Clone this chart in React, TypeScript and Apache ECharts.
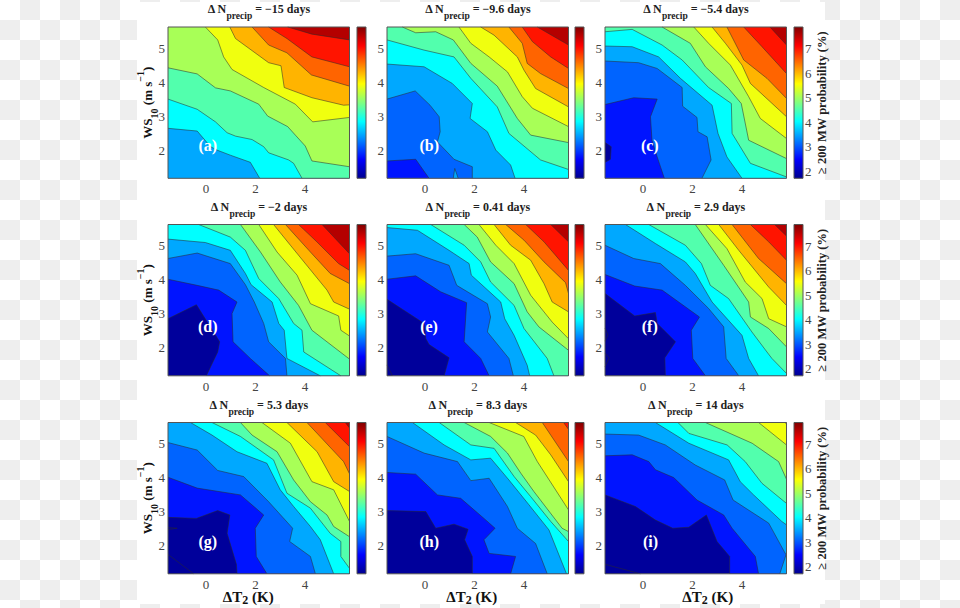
import React, { useEffect, useRef } from "react";
import * as echarts from "echarts";

// Axis extents of every panel (K, m/s) and of the colour bars (%)
const X_MIN = -1.54, X_MAX = 5.8, Y_MIN = 1.18, Y_MAX = 5.63;
const BAR_MIN = 1.71, BAR_MAX = 7.9;
const xTicks = [0, 2, 4];
const yTicks = [2, 3, 4, 5];
const barTicks = [2, 3, 4, 5, 6, 7];

const bandColors = ["#00009b", "#0014ff", "#0064ff", "#00a8ff", "#00ffff", "#52ffad", "#a8ff57", "#f0ff0f", "#ffb400", "#ff6400", "#ff1400", "#b40000"];
const jetStops = [[0, "#00008f"], [0.125, "#0000ff"], [0.375, "#00ffff"], [0.625, "#ffff00"], [0.875, "#ff0000"], [1, "#800000"]];

const titles = ["−15", "−9.6", "−5.4", "−2", "0.41", "2.9", "5.3", "8.3", "14"];
const letters = ["(a)", "(b)", "(c)", "(d)", "(e)", "(f)", "(g)", "(h)", "(i)"];
const letterX = [0.07, 0.17, 0.27, 0.07, 0.16, 0.27, 0.07, 0.17, 0.3];
const letterY = [2.14, 2.14, 2.14, 2.64, 2.64, 2.64, 2.13, 2.13, 2.13];
const baseBands = [3, 1, 1, 0, 0, 0, 0, 0, 0];

// Each contour: band painted on its high side, then x,y pairs.
const contoursA = [
  [4, -1.54, 2.65, -0.36, 2.57, 0.18, 2.11, 0.44, 2.01, 0.98, 1.86, 1.79, 1.65, 2.17, 1.18],
  [5, -1.54, 3.51, -0.36, 3.21, 0.38, 2.84, 0.85, 2.52, 1.19, 2.42, 1.86, 2.32, 2.33, 2.11, 2.53, 1.93, 3.34, 1.72, 3.54, 1.62, 3.88, 1.18],
  [6, -1.54, 4.43, -0.36, 4.25, 0.38, 3.84, 0.98, 3.75, 2.13, 3.36, 2.49, 3.01, 3.3, 2.7, 3.61, 2.45, 4.01, 2.13, 4.28, 1.69, 5.8, 1.52],
  [7, -0.03, 5.63, 0.47, 5.25, 0.71, 4.75, 1.05, 4.38, 2.33, 3.85, 3.61, 3.36, 4.31, 2.84, 5.8, 2.97],
  [8, 0.96, 5.63, 1.19, 5.29, 2.53, 4.58, 3.03, 4.49, 3.16, 3.85, 4.28, 3.55, 5.56, 3.33, 5.8, 3.34],
  [9, 1.86, 5.63, 2.53, 5.1, 3.27, 4.87, 4.26, 4.22, 5.8, 3.89],
  [10, 2.53, 5.63, 3.27, 5.29, 4.28, 4.75, 5.8, 4.46],
  [11, 3.3, 5.63, 4.28, 5.42, 5.8, 5.25],
];
const contoursB = [
  [2, -1.54, 1.69, -0.38, 1.74, 0.16, 1.18],
  [3, -1.54, 3.51, -0.4, 3.75, 0.2, 3.33, 0.57, 2.99, 0.61, 2.55, 0.5, 2.25, 1.17, 1.74, 1.91, 1.52, 1.91, 1.18],
  [4, -1.54, 4.54, -0.04, 4.46, 1.1, 3.97, 1.91, 3.38, 1.82, 2.94, 2.52, 2.55, 2.86, 2.01, 3.46, 1.57, 3.64, 1.18],
  [5, -1.54, 5.25, -0.04, 4.95, 1.17, 4.75, 1.85, 4.12, 2.92, 3.28, 3.39, 2.5, 4.67, 1.72, 5.8, 1.44],
  [6, -0.92, 5.63, -0.38, 5.46, 0.43, 5.49, 1.14, 5.25, 1.85, 4.56, 2.92, 3.89, 3.73, 2.94, 4.27, 2.45, 5.8, 2.23],
  [7, 1.37, 5.63, 1.85, 5.15, 2.59, 4.75, 3.33, 4.31, 3.93, 3.58, 4.34, 3.24, 5.8, 2.7],
  [8, 2.25, 5.63, 2.79, 5.39, 3.73, 4.75, 4.0, 4.36, 4.47, 3.82, 5.8, 3.28],
  [9, 3.39, 5.63, 3.93, 5.15, 4.13, 4.56, 4.67, 4.26, 5.8, 3.82],
  [10, 3.93, 5.63, 4.34, 5.2, 5.08, 4.75, 5.8, 4.41],
  [11, 4.54, 5.63, 5.8, 5.1],
  [3, 1.34, 1.18, 1.2, 1.47, 1.14, 1.18],
];
const contoursC = [
  [2, -1.54, 3.35, -0.38, 3.55, 0.57, 3.51, 0.3, 2.99, 0.36, 2.3, 0.57, 1.81, 0.86, 1.18],
  [3, -1.54, 4.63, -0.18, 4.58, 0.57, 4.41, 1.58, 3.85, 1.6, 3.3, 2.18, 2.97, 2.22, 2.55, 2.59, 2.4, 2.75, 1.72, 2.38, 1.18],
  [4, -1.54, 5.07, -0.44, 5.05, 0.63, 4.75, 1.51, 4.12, 2.79, 3.33, 3.03, 2.5, 3.39, 1.81, 4.0, 1.18],
  [5, -1.54, 5.49, -0.44, 5.56, 0.77, 5.1, 1.58, 4.66, 2.65, 3.85, 3.57, 3.38, 3.6, 2.5, 4.34, 1.62, 5.8, 1.22],
  [6, 0.77, 5.63, 1.91, 5.15, 2.52, 4.46, 3.46, 3.82, 3.97, 3.38, 4.27, 2.3, 5.8, 1.76],
  [7, 2.05, 5.63, 2.65, 5.15, 3.53, 4.51, 4.27, 3.58, 4.74, 2.94, 5.8, 2.35],
  [8, 2.79, 5.63, 3.33, 5.15, 4.0, 4.51, 4.34, 3.97, 5.8, 2.99],
  [9, 3.39, 5.63, 4.07, 4.66, 5.01, 4.12, 5.8, 3.53],
  [10, 4.07, 5.63, 4.81, 5.05, 5.8, 4.26],
  [11, 5.13, 5.63, 5.8, 5.1],
  [0, -1.54, 1.65, -1.32, 1.74, -1.29, 2.11, -1.54, 2.23],
];
const contoursD = [
  [1, -1.54, 2.86, -0.39, 3.27, 0.55, 2.18, 0.47, 1.88, 0.01, 1.18],
  [2, -1.54, 4.02, -0.36, 3.84, 0.51, 3.7, 1.25, 3.35, 1.05, 3.01, 1.09, 2.18, 1.79, 1.69, 2.57, 1.18],
  [3, -1.54, 4.63, -0.36, 4.79, 0.98, 4.48, 1.59, 3.86, 1.95, 3.35, 2.33, 2.72, 2.53, 2.18, 3.21, 1.69, 3.27, 1.18],
  [4, -1.54, 5.2, -0.03, 5.1, 0.98, 4.87, 1.59, 4.19, 1.82, 3.86, 2.67, 3.35, 2.94, 2.72, 3.16, 2.52, 3.27, 1.69, 4.62, 1.18],
  [5, -0.3, 5.63, 0.98, 5.26, 1.59, 4.87, 2.13, 4.04, 2.94, 3.45, 3.54, 2.72, 3.88, 2.52, 3.95, 1.88, 5.45, 1.18],
  [6, 1.39, 5.63, 2.2, 4.82, 3.0, 3.94, 3.74, 3.25, 4.28, 2.52, 5.8, 1.67],
  [7, 2.13, 5.63, 2.87, 4.82, 3.68, 4.14, 4.22, 3.3, 5.36, 2.94, 5.45, 2.52, 5.8, 2.35],
  [8, 2.73, 5.63, 3.41, 5.02, 4.89, 3.7, 5.16, 3.35, 5.8, 3.14],
  [9, 3.21, 5.63, 4.22, 4.82, 5.02, 4.19, 5.8, 3.89],
  [10, 3.74, 5.63, 4.48, 5.12, 5.36, 4.48, 5.8, 4.28],
  [11, 4.69, 5.63, 5.8, 4.77],
];
const contoursE = [
  [1, -1.54, 3.43, -0.04, 2.72, 0.03, 2.27, 0.16, 2.1, 0.97, 1.71, 0.77, 1.18],
  [2, -1.54, 4.02, -0.38, 4.12, 0.63, 3.65, 1.68, 3.33, 1.58, 2.18, 2.25, 1.69, 2.59, 1.18],
  [3, -1.54, 4.7, -0.38, 4.77, 0.97, 4.43, 1.28, 3.84, 2.52, 3.3, 2.65, 2.91, 2.52, 2.47, 3.39, 1.69, 3.57, 1.18],
  [4, -1.54, 5.54, -0.31, 5.46, 0.97, 4.87, 1.78, 4.48, 1.87, 4.14, 3.06, 3.35, 3.22, 2.86, 3.6, 2.37, 4.13, 1.49, 4.23, 1.18],
  [5, 0.23, 5.63, 1.58, 5.02, 2.25, 4.53, 2.65, 3.94, 3.6, 3.25, 4.0, 2.57, 4.94, 1.69, 5.21, 1.18],
  [6, 1.58, 5.63, 2.11, 5.26, 2.65, 4.53, 3.6, 3.89, 4.13, 3.06, 4.6, 2.62, 5.8, 1.93],
  [7, 2.18, 5.63, 2.86, 5.02, 3.6, 4.48, 4.27, 3.55, 5.14, 2.76, 5.8, 2.27],
  [8, 2.79, 5.63, 3.46, 5.02, 4.27, 4.58, 4.81, 3.89, 5.14, 3.35, 5.8, 3.06],
  [9, 3.26, 5.63, 4.0, 5.17, 4.81, 4.53, 5.68, 3.92, 5.8, 3.6],
  [10, 4.07, 5.63, 4.81, 5.12, 5.8, 4.28],
  [11, 5.08, 5.63, 5.8, 5.12],
  [0, -1.32, 1.18, -1.54, 1.5],
];
const contoursF = [
  [1, -1.54, 3.6, -0.34, 2.94, 0.5, 3.04, 0.57, 2.72, 1.31, 2.18, 0.88, 1.71, 0.9, 1.18],
  [2, -1.54, 4.16, -0.34, 3.82, 0.77, 3.7, 2.28, 2.91, 1.95, 2.52, 2.01, 1.69, 2.52, 1.18],
  [3, -1.54, 5.02, -0.38, 4.63, 0.7, 4.48, 1.71, 3.84, 2.65, 3.16, 3.26, 2.62, 3.36, 1.69, 3.87, 1.18],
  [4, -0.71, 5.63, 0.5, 5.07, 1.71, 4.53, 2.11, 4.19, 2.79, 3.35, 4.0, 2.37, 4.27, 1.69, 4.67, 1.18],
  [5, 0.23, 5.63, 1.71, 5.02, 2.36, 4.48, 2.72, 3.84, 3.46, 3.45, 4.4, 2.47, 5.01, 1.88, 5.21, 1.69, 5.8, 1.25],
  [6, 2.11, 5.63, 3.26, 4.43, 4.27, 3.35, 4.34, 2.91, 5.08, 2.57, 5.8, 2.03],
  [7, 2.52, 5.63, 3.39, 4.92, 4.13, 3.94, 4.81, 3.45, 5.08, 2.86, 5.8, 2.62],
  [8, 3.06, 5.63, 3.87, 4.87, 5.08, 3.79, 5.8, 3.25],
  [9, 3.6, 5.63, 4.67, 4.63, 5.8, 3.89],
  [10, 4.34, 5.63, 5.08, 5.12, 5.8, 4.58],
  [11, 5.32, 5.63, 5.8, 5.29],
  [0, -1.54, 2.2, -1.42, 2.38, -1.54, 2.58],
  [0, -1.54, 1.45, -1.37, 1.7, -1.54, 1.85],
];
const contoursG = [
  [1, -1.54, 2.84, -0.39, 2.81, 0.47, 3.04, 0.96, 2.91, 0.85, 2.37, 1.23, 1.45, 1.25, 1.18],
  [2, -1.54, 4.02, -0.36, 3.7, 1.39, 3.5, 2.33, 2.91, 1.99, 2.52, 2.03, 1.69, 2.46, 1.18],
  [3, -1.54, 5.04, -0.36, 4.82, 0.47, 4.22, 1.52, 4.04, 2.53, 3.3, 3.5, 2.52, 3.38, 2.13, 4.22, 1.69, 4.42, 1.18],
  [4, -0.63, 5.63, 0.24, 5.26, 1.25, 4.77, 2.46, 4.43, 3.0, 3.65, 3.54, 3.16, 4.22, 2.57, 4.62, 2.18, 5.16, 1.18],
  [5, 0.24, 5.63, 1.39, 5.22, 2.73, 4.53, 3.27, 3.55, 4.22, 3.11, 5.02, 2.37, 5.45, 2.13, 5.45, 1.69, 5.8, 1.34],
  [6, 1.39, 5.63, 1.86, 5.26, 2.87, 4.77, 3.54, 3.94, 4.22, 3.3, 4.89, 2.91, 5.16, 2.57, 5.8, 2.27],
  [7, 2.26, 5.63, 3.41, 5.02, 4.28, 3.89, 5.16, 3.65, 5.8, 2.72],
  [8, 3.27, 5.63, 4.49, 4.77, 5.16, 3.89, 5.8, 3.6],
  [9, 4.08, 5.63, 5.56, 4.48, 5.8, 4.12],
  [10, 4.82, 5.63, 5.8, 4.92],
  [11, 5.63, 5.63, 5.8, 5.47],
  [0, -0.5, 1.18, -1.54, 1.75],
  [0, -1.54, 2.48, -1.17, 2.52, -1.54, 2.54],
];
const contoursH = [
  [1, -1.54, 3.04, 0.03, 3.01, 0.43, 2.52, 1.17, 2.64, 1.74, 2.49, 1.6, 2.18, 1.91, 1.69, 1.91, 1.18],
  [2, -1.54, 4.16, -0.38, 4.11, 0.5, 3.5, 1.44, 3.4, 2.38, 2.81, 2.83, 2.52, 2.38, 2.18, 2.59, 1.78, 3.66, 1.69, 3.46, 1.18],
  [3, -1.54, 5.22, -0.04, 4.73, 1.31, 4.48, 1.85, 3.92, 2.59, 3.99, 3.33, 3.16, 3.73, 2.52, 4.47, 2.07, 4.94, 1.18],
  [4, -0.51, 5.63, 0.77, 4.97, 1.85, 4.53, 2.65, 4.58, 3.39, 3.94, 4.2, 3.21, 5.01, 2.47, 5.72, 1.18],
  [5, 0.57, 5.63, 1.85, 4.97, 2.79, 4.87, 3.6, 4.04, 4.27, 3.45, 5.08, 2.72, 5.8, 2.13],
  [6, 1.58, 5.63, 2.65, 5.22, 3.33, 4.73, 3.87, 4.14, 4.4, 3.6, 5.54, 2.52, 5.8, 2.42],
  [7, 2.59, 5.63, 3.99, 5.22, 4.54, 4.48, 5.8, 3.06],
  [8, 3.66, 5.63, 4.47, 5.26, 5.08, 4.68, 5.8, 3.89],
  [9, 4.74, 5.63, 5.8, 4.48],
  [10, 5.6, 5.63, 5.8, 5.43],
];
const contoursI = [
  [1, -1.54, 3.5, -0.31, 3.16, 0.5, 2.76, 1.2, 2.52, 1.85, 2.55, 2.56, 2.91, 2.99, 2.13, 3.5, 1.69, 3.5, 1.18],
  [2, -1.54, 4.65, -0.44, 4.68, 0.23, 4.48, 0.5, 4.24, 1.24, 4.01, 2.18, 3.35, 3.26, 2.91, 3.6, 2.52, 4.54, 1.69, 4.67, 1.18],
  [3, -1.54, 5.29, -0.18, 5.26, 0.9, 4.97, 2.11, 4.38, 3.3, 3.94, 3.64, 3.35, 5.08, 2.67, 5.78, 1.74, 5.53, 1.18],
  [4, 0.5, 5.63, 1.85, 5.02, 3.46, 4.53, 3.93, 3.89, 4.47, 3.5, 5.61, 2.72, 5.8, 2.62],
  [5, 1.41, 5.63, 1.85, 5.31, 3.4, 4.97, 4.13, 4.48, 4.81, 3.84, 5.8, 3.25],
  [6, 2.52, 5.63, 4.41, 5.02, 5.48, 4.48, 5.8, 3.96],
  [7, 4.67, 5.63, 5.8, 4.97],
  [8, 5.75, 5.63, 5.8, 5.58],
  [0, -0.11, 1.18, -1.54, 1.46],
];
const panels = [contoursA, contoursB, contoursC, contoursD, contoursE, contoursF, contoursG, contoursH, contoursI];

// Layout (pixels)
const colLeft = [168, 387, 605];
const rowTop = [27, 224.5, 422.5];
const plotW = 181.5, plotH = 151.3;
const barLeft = [357, 575, 794];
const barW = 9;
const xNamePad = [[0, 21, 0, 0], [0, 12, 0, 0], [0, 0, 0, 24]];

const SERIF = "Liberation Serif";
const corners = [[X_MIN, Y_MIN], [X_MAX, Y_MIN], [X_MAX, Y_MAX], [X_MIN, Y_MAX]];
const W = X_MAX - X_MIN, H = Y_MAX - Y_MIN;

function edgeParam(x: number, y: number) {
  const e = 0.001;
  if (Math.abs(y - Y_MIN) < e) return (x - X_MIN) / W;
  if (Math.abs(x - X_MAX) < e) return 1 + (y - Y_MIN) / H;
  if (Math.abs(y - Y_MAX) < e) return 2 + (X_MAX - x) / W;
  return 3 + (Y_MAX - y) / H;
}

function contourRenderer(base: number, list: number[][]) {
  return (params: any, api: any) => {
    const idx = params.dataIndex;
    if (idx === 0) {
      return {
        type: "polygon",
        shape: { points: corners.map((c) => api.coord(c)) },
        style: { fill: bandColors[base] },
      };
    }
    const c = list[idx - 1];
    const pts: number[][] = [];
    for (let i = 1; i + 1 < c.length; i += 2) pts.push([c[i], c[i + 1]]);
    const first = pts[0], last = pts[pts.length - 1];
    const te = edgeParam(last[0], last[1]);
    let ts = edgeParam(first[0], first[1]);
    if (ts <= te) ts += 4;
    const closing: number[][] = [];
    for (let n = Math.floor(te) + 1; n < ts; n++) closing.push(corners[n % 4]);
    const line = pts.map((p) => api.coord(p));
    return {
      type: "group",
      children: [
        { type: "polygon", shape: { points: line.concat(closing.map((p) => api.coord(p))) }, style: { fill: bandColors[c[0]] } },
        { type: "polyline", shape: { points: line }, style: { stroke: "#2a2a2a", lineWidth: 0.7, opacity: 0.75, fill: "none" } },
      ],
    };
  };
}

function overlayRenderer(i: number) {
  return (_p: any, api: any) => {
    const a = api.coord([X_MIN, Y_MAX]);
    const b = api.coord([X_MAX, Y_MIN]);
    const t = api.coord([letterX[i], letterY[i]]);
    return {
      type: "group",
      children: [
        { type: "rect", shape: { x: a[0], y: a[1], width: b[0] - a[0], height: b[1] - a[1] }, style: { fill: "none", stroke: "#555", lineWidth: 1 } },
        { type: "text", x: t[0], y: t[1], style: { text: letters[i], fill: "#fff", font: `bold 16px "${SERIF}"`, align: "center", verticalAlign: "middle" } },
      ],
    };
  };
}

function barRenderer(_p: any, api: any) {
  const a = api.coord([0, BAR_MAX]);
  const b = api.coord([1, BAR_MIN]);
  return {
    type: "rect",
    shape: { x: a[0], y: a[1], width: b[0] - a[0], height: b[1] - a[1] },
    style: {
      fill: new echarts.graphic.LinearGradient(0, 1, 0, 0, jetStops.map(([offset, color]) => ({ offset, color }))),
      stroke: "#555",
      lineWidth: 1,
    },
  };
}

function buildOption() {
  const grid: any[] = [], xAxis: any[] = [], yAxis: any[] = [], series: any[] = [], title: any[] = [];
  const tickLabel = { color: "#444", fontFamily: SERIF, fontSize: 13 };
  panels.forEach((list, i) => {
    const col = i % 3, row = Math.floor(i / 3);
    const left = colLeft[col], top = rowTop[row];
    const g = grid.length;
    grid.push({ left, top, width: plotW, height: plotH });
    xAxis.push({
      gridIndex: g, type: "value", min: X_MIN, max: X_MAX,
      axisLine: { show: false }, axisTick: { show: false }, splitLine: { show: false },
      axisLabel: { ...tickLabel, margin: 4, customValues: xTicks },
      ...(row === 2
        ? {
            name: "{m|ΔT}{s|2}{m| (K)}", nameLocation: "middle", nameGap: 14, nameMoveOverlap: false,
            nameTextStyle: {
              padding: xNamePad[col],
              rich: {
                m: { fontFamily: SERIF, fontSize: 15, fontWeight: "bold", color: "#111", lineHeight: 18 },
                s: { fontFamily: SERIF, fontSize: 12, fontWeight: "bold", color: "#111", verticalAlign: "bottom" },
              },
            },
          }
        : {}),
    });
    yAxis.push({
      gridIndex: g, type: "value", min: Y_MIN, max: Y_MAX,
      axisLine: { show: false }, axisTick: { show: false }, splitLine: { show: false },
      axisLabel: { ...tickLabel, margin: 3, customValues: yTicks },
      ...(col === 0
        ? {
            name: "{m|WS}{s|10}{m| (m s}{u|−1}{m|)}", nameLocation: "middle", nameGap: 9, nameRotate: 90, nameMoveOverlap: false,
            nameTextStyle: {
              rich: {
                m: { fontFamily: SERIF, fontSize: 13, fontWeight: "bold", color: "#111", lineHeight: 24 },
                s: { fontFamily: SERIF, fontSize: 10, fontWeight: "bold", color: "#111", verticalAlign: "bottom" },
                u: { fontFamily: SERIF, fontSize: 10, fontWeight: "bold", color: "#111", verticalAlign: "top" },
              },
            },
          }
        : {}),
    });
    series.push({
      type: "custom", coordinateSystem: "cartesian2d", xAxisIndex: g, yAxisIndex: g, silent: true,
      renderItem: contourRenderer(baseBands[i], list),
      data: [[X_MIN, Y_MIN]].concat(list.map((c) => [c[1], c[2]])),
      clip: false,
    });
    series.push({
      type: "custom", coordinateSystem: "cartesian2d", xAxisIndex: g, yAxisIndex: g, silent: true,
      renderItem: overlayRenderer(i), data: [[letterX[i], letterY[i]]], clip: false, z: 5,
    });
    title.push({
      text: `{m|Δ N}{s|precip}{m| = ${titles[i]} days}`,
      left: left + plotW / 2, top: top - 30, textAlign: "center", padding: 0,
      textStyle: {
        rich: {
          m: { fontFamily: SERIF, fontSize: 12, fontWeight: "bold", color: "#222", lineHeight: 24 },
          s: { fontFamily: SERIF, fontSize: 9.5, fontWeight: "bold", color: "#222", verticalAlign: "bottom" },
        },
      },
    });
    // colour bar
    const b = grid.length;
    grid.push({ left: barLeft[col], top, width: barW, height: plotH });
    xAxis.push({ gridIndex: b, type: "value", min: 0, max: 1, show: false });
    yAxis.push({
      gridIndex: b, type: "value", min: BAR_MIN, max: BAR_MAX, position: "right",
      axisLine: { show: false }, axisTick: { show: false }, splitLine: { show: false },
      axisLabel: col === 2 ? { ...tickLabel, margin: 2, customValues: barTicks } : { show: false },
      ...(col === 2
        ? {
            name: "≥ 200 MW probability (%)", nameLocation: "middle", nameGap: 12, nameRotate: 90, nameMoveOverlap: false,
            nameTextStyle: { fontFamily: SERIF, fontSize: 12.5, fontWeight: "bold", color: "#222" },
          }
        : {}),
    });
    series.push({
      type: "custom", coordinateSystem: "cartesian2d", xAxisIndex: b, yAxisIndex: b, silent: true,
      renderItem: barRenderer, data: [[0, BAR_MIN]], clip: false,
    });
  });
  return { animation: false, backgroundColor: "transparent", grid, xAxis, yAxis, series, title };
}

export default function App() {
  const ref = useRef<HTMLDivElement>(null);
  useEffect(() => {
    document.body.style.margin = "0";
    const chart = echarts.init(ref.current as HTMLDivElement, undefined, { renderer: "svg" });
    chart.setOption(buildOption() as any);
    return () => chart.dispose();
  }, []);
  return (
    <div style={{ position: "relative", width: 960, height: 608, overflow: "hidden", background: "conic-gradient(#eee 25%, #fff 0 50%, #eee 0 75%, #fff 0) 0 0 / 40px 40px" }}>
      <div style={{ position: "absolute", left: 137, top: 2, width: 688, height: 602, background: "#fff" }} />
      <div ref={ref} style={{ position: "absolute", left: 0, top: 0, width: 960, height: 608 }} />
    </div>
  );
}
